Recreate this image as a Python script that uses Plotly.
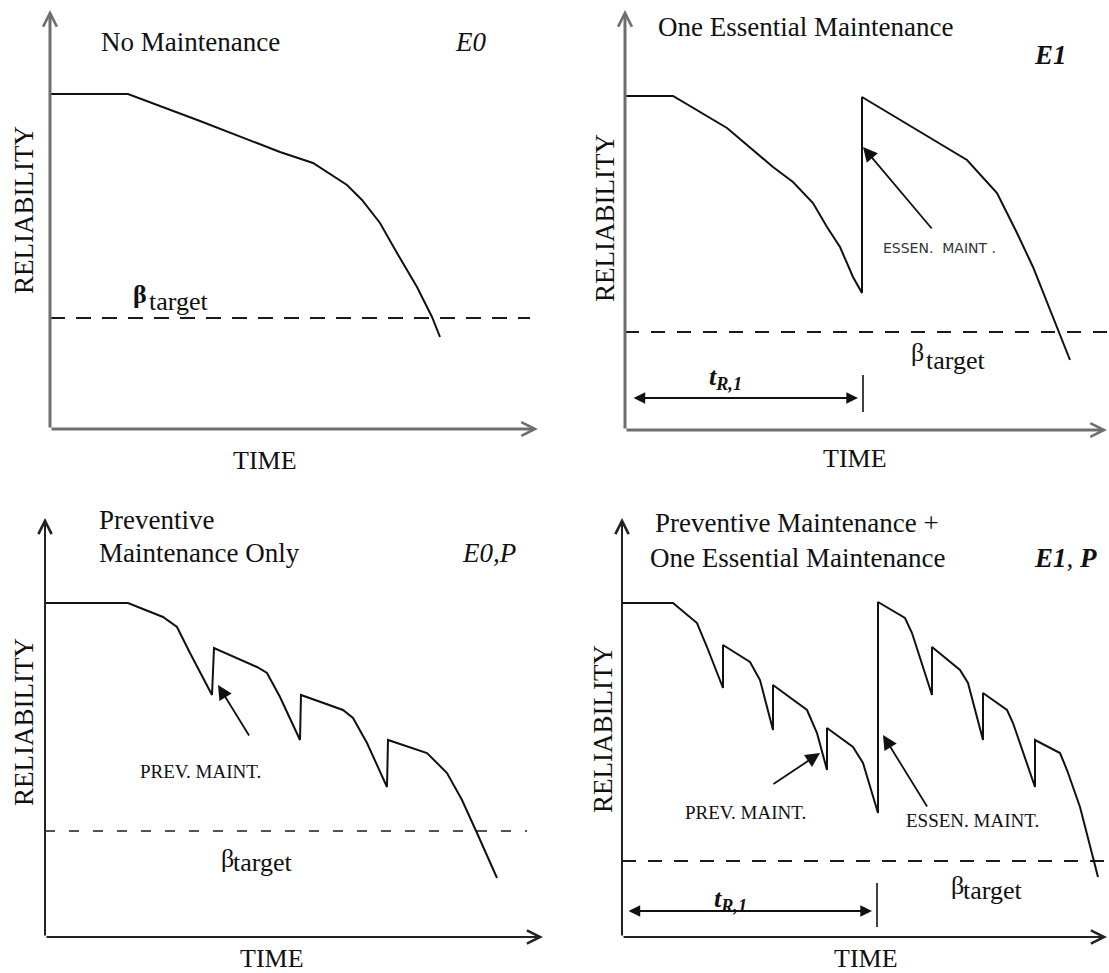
import plotly.graph_objects as go

W, H = 1109, 973

# ---------------- data (time units / reliability units, origin at axes corner) -------------
# Panel E0 : no maintenance
e0_time = [0, 78, 150, 230, 263, 297, 312, 330, 347, 367, 382, 390]
e0_rel = [335, 335, 308, 277, 266, 244, 229, 206, 176, 142, 112, 92]
e0_target = 111

# Panel E1 : one essential maintenance
e1_time = [0, 48, 102, 148, 168, 188, 202, 215, 228, 237, 237, 282, 342, 372, 392, 408, 428, 445]
e1_rel = [334, 334, 302, 263, 248, 227, 203, 183, 153, 137, 333, 306, 270, 237, 197, 163, 113, 70]
e1_target = 98
e1_tr1 = 237

# Panel E0,P : preventive maintenance only
e0p_time = [0, 83, 118, 132, 145, 167, 169, 212, 222, 235, 255, 256, 298, 308, 322, 342, 343,
            382, 402, 417, 432, 452]
e0p_rel = [334, 334, 320, 310, 284, 242, 289, 270, 264, 240, 197, 242, 227, 219, 194, 150, 197,
           184, 164, 137, 104, 59]
e0p_target = 106

# Panel E1,P : preventive + one essential maintenance
e1p_time = [0, 51, 75, 85, 101, 101, 128, 138, 151, 151, 185, 195, 205, 205, 231, 241, 256, 256,
            283, 290, 310, 310, 338, 346, 361, 361, 385, 391, 413, 413, 438, 445, 458, 476]
e1p_rel = [334, 334, 314, 290, 249, 292, 275, 257, 207, 252, 227, 204, 167, 209, 190, 174, 124, 335,
           319, 304, 242, 290, 267, 254, 197, 244, 227, 214, 150, 197, 184, 167, 130, 60]
e1p_target = 76
e1p_tr1 = 256

# ---------------- panel geometry (pixel origin of each axes corner) ----------------
panels = [
    dict(ax="", ox=50, oy=429, dx=(0.0, 0.5), dy=(0.5, 1.0), xtip=488, ytip=419,
         axcol="#6e6e6e", axw=3, ahs=0.9, dash="15px,11px", dw=2.2, dend=480),
    dict(ax="2", ox=625, oy=430, dx=(0.5, 1.0), dy=(0.5, 1.0), xtip=482, ytip=420,
         axcol="#6e6e6e", axw=3, ahs=0.9, dash="14px,12px", dw=2, dend=484),
    dict(ax="3", ox=45, oy=937, dx=(0.0, 0.5), dy=(0.0, 0.5), xtip=498, ytip=419,
         axcol="#222222", axw=2, ahs=1.3, dash="10px,14px", dw=1.5, dend=482),
    dict(ax="4", ox=622, oy=937, dx=(0.5, 1.0), dy=(0.0, 0.5), xtip=485, ytip=419,
         axcol="#222222", axw=2, ahs=1.3, dash="14px,12px", dw=2, dend=487),
]
series = [
    (e0_time, e0_rel, e0_target),
    (e1_time, e1_rel, e1_target),
    (e0p_time, e0p_rel, e0p_target),
    (e1p_time, e1p_rel, e1p_target),
]

SERIF = "Liberation Serif, Times New Roman, serif"
SANS = "DejaVu Sans, Arial, sans-serif"
TXT = "#111111"

fig = go.Figure()
layout = dict(width=W, height=H, margin=dict(l=0, r=0, t=0, b=0, pad=0),
              paper_bgcolor="white", plot_bgcolor="white", showlegend=False)
annotations = []

for p, (t, r, tgt) in zip(panels, series):
    xr, yr = "x" + p["ax"], "y" + p["ax"]
    xr_range = [p["dx"][0] * W - p["ox"], p["dx"][1] * W - p["ox"]]
    yr_range = [p["oy"] - (1 - p["dy"][0]) * H, p["oy"] - (1 - p["dy"][1]) * H]
    layout["xaxis" + p["ax"]] = dict(domain=list(p["dx"]), range=xr_range, visible=False,
                                     anchor=yr, fixedrange=True)
    layout["yaxis" + p["ax"]] = dict(domain=list(p["dy"]), range=yr_range, visible=False,
                                     anchor=xr, fixedrange=True)
    # target line
    fig.add_trace(go.Scatter(x=[0, p["dend"]], y=[tgt, tgt], mode="lines", xaxis=xr, yaxis=yr,
                             line=dict(color="#1a1a1a", width=p["dw"], dash=p["dash"]),
                             hoverinfo="skip"))
    # reliability curve
    fig.add_trace(go.Scatter(x=t, y=r, mode="lines", xaxis=xr, yaxis=yr,
                             line=dict(color="#111111", width=2), hoverinfo="skip"))
    # axes with open arrow heads
    for (hx, hy) in [(p["xtip"], 0), (0, p["ytip"])]:
        annotations.append(dict(x=hx, y=hy, ax=0, ay=0, xref=xr, yref=yr, axref=xr, ayref=yr,
                                text="", showarrow=True, arrowhead=5, arrowsize=p["ahs"],
                                arrowwidth=p["axw"], arrowcolor=p["axcol"]))


def label(ax, x, y, text, size, family=SERIF, xanchor="center", color=TXT, angle=0):
    annotations.append(dict(x=x, y=y, xref="x" + ax, yref="y" + ax, text=text, showarrow=False,
                            xanchor=xanchor, yanchor="middle", textangle=angle,
                            font=dict(family=family, size=size, color=color)))


def pointer(ax, hx, hy, tx, ty, both=False, size=1.6):
    annotations.append(dict(x=hx, y=hy, ax=tx, ay=ty, xref="x" + ax, yref="y" + ax,
                            axref="x" + ax, ayref="y" + ax, text="", showarrow=True,
                            arrowhead=2, arrowsize=size, arrowwidth=1.8, arrowcolor="#111111",
                            arrowside="end+start" if both else "end"))


# ---- Panel E0
label("", 140, 387, "No Maintenance", 27)
label("", 420, 387, "<i>E0</i>", 27)
label("", -26, 219, "RELIABILITY", 27, angle=-90)
label("", 90, 135, "<b>β</b>", 26)
label("", 128, 128, "target", 26)
label("", 215, -31, "TIME", 26)

# ---- Panel E1
label("2", 180, 403, "One Essential Maintenance", 27)
label("2", 425, 375, "<b><i>E1</i></b>", 27)
label("2", -20, 212, "RELIABILITY", 27, angle=-90)
pointer("2", 238, 283, 308, 200)
label("2", 314, 182, "ESSEN.  MAINT .", 14, family=SANS, color="#333333")
label("2", 292, 78, "β", 26)
label("2", 330, 70, "target", 26)
pointer("2", 233, 32, 7, 32, both=True, size=1.3)
fig.add_trace(go.Scatter(x=[e1_tr1 + 1, e1_tr1 + 1], y=[18, 55], mode="lines", xaxis="x2",
                         yaxis="y2", line=dict(color="#111111", width=1.6), hoverinfo="skip"))
label("2", 100, 52, "<b><i>t</i></b><sub><b><i>R,1</i></b></sub>", 26)
label("2", 230, -28, "TIME", 26)

# ---- Panel E0,P
label("3", 52, 417, "Preventive", 27, xanchor="left")
label("3", 52, 384, "Maintenance Only", 27, xanchor="left")
label("3", 444, 384, "<i>E0,P</i>", 27)
label("3", -21, 215, "RELIABILITY", 27, angle=-90)
pointer("3", 173, 252, 205, 200)
label("3", 155, 166, "PREV. MAINT.", 19)
label("3", 182, 79, "β", 26)
label("3", 217, 75, "target", 26)
label("3", 227, -21, "TIME", 26)

# ---- Panel E1,P
label("4", 175, 414, "Preventive Maintenance +", 27)
label("4", 175, 379, "One Essential Maintenance", 27)
label("4", 443, 379, "<b><i>E1</i></b>, <b><i>P</i></b>", 27)
label("4", -19, 208, "RELIABILITY", 27, angle=-90)
pointer("4", 198, 184, 150, 152)
label("4", 123, 125, "PREV. MAINT.", 19)
pointer("4", 261, 202, 306, 129)
label("4", 350, 117, "ESSEN. MAINT.", 19)
label("4", 335, 52, "β", 26)
label("4", 370, 47, "target", 26)
pointer("4", 250, 26, 5, 26, both=True, size=1.3)
fig.add_trace(go.Scatter(x=[e1p_tr1 - 1, e1p_tr1 - 1], y=[10, 54], mode="lines", xaxis="x4",
                         yaxis="y4", line=dict(color="#111111", width=1.6), hoverinfo="skip"))
label("4", 108, 37, "<b><i>t</i></b><sub><b><i>R,1</i></b></sub>", 26)
label("4", 244, -21, "TIME", 26)

layout["annotations"] = annotations
fig.update_layout(**layout)

fig.write_html("out.html", config={"displayModeBar": False, "staticPlot": True},
               post_script="document.body.style.margin='0';document.body.style.overflow='hidden';")
